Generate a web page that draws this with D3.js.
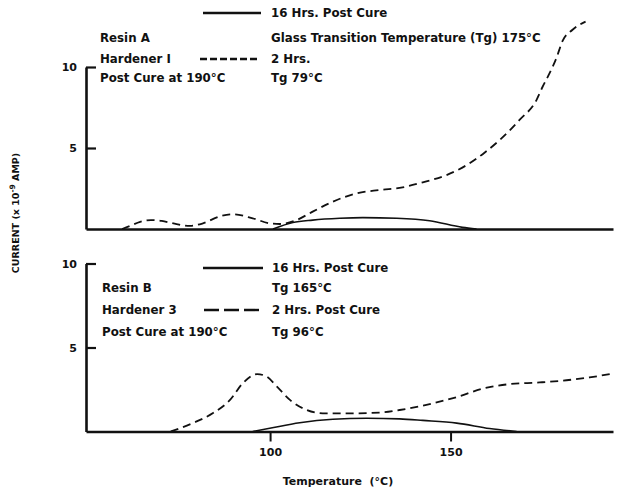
<!DOCTYPE html>
<html>
<head>
<meta charset="utf-8">
<script src="https://cdn.jsdelivr.net/npm/d3@7"></script>
<style>
  html, body { margin: 0; padding: 0; background: #fff; }
  svg text { font-family: "DejaVu Sans", sans-serif; font-weight: bold; fill: #111; }
</style>
</head>
<body>
<svg id="chart" width="622" height="490"></svg>
<script>
// ---- Data (temperature °C, current x10^-9 A) ----
const xTickValues = [100, 150];
const yTickValues = [5, 10];

// Panel A: Resin A / Hardener I
const resinA16hTemp = [100.8, 106.3, 111.8, 119.3, 125.7, 135.1, 144.2, 153.3, 157.2];
const resinA16hCurr = [0, 0.4, 0.55, 0.66, 0.7, 0.66, 0.51, 0.1, 0];
const resinA2hTemp = [59, 61.5, 64, 67, 70, 74.1, 77.8, 81.4, 86.1, 89.7, 95.2, 99.9, 102.7, 107.4, 111.8, 117.4, 124, 130.4, 136.7, 142.3, 148.9, 154.5, 159.4, 163.6, 169.1, 173.8, 175.5, 177.4, 179.4, 181, 183.8, 187.4];
const resinA2hCurr = [0, 0.22, 0.44, 0.55, 0.5, 0.3, 0.19, 0.35, 0.78, 0.91, 0.66, 0.35, 0.31, 0.56, 1.07, 1.69, 2.2, 2.41, 2.57, 2.88, 3.33, 3.95, 4.71, 5.49, 6.73, 7.96, 8.78, 9.6, 10.6, 11.6, 12.3, 12.8];

// Panel B: Resin B / Hardener 3
const resinB16hTemp = [95.2, 99.9, 108.2, 117.4, 126.8, 135.9, 142.3, 151.7, 160.8, 168.3];
const resinB16hCurr = [0, 0.19, 0.52, 0.73, 0.79, 0.75, 0.66, 0.5, 0.18, 0];
const resinB2hTemp = [72.5, 78.6, 84.2, 88.9, 92.5, 96.4, 99.1, 101.9, 105.5, 110.2, 114.6, 122.1, 131.2, 135.9, 142.3, 151.7, 158.9, 165.5, 174.7, 182.1, 188.5, 195];
const resinB2hCurr = [0, 0.5, 1.1, 1.88, 2.89, 3.42, 3.26, 2.67, 1.88, 1.28, 1.08, 1.08, 1.14, 1.28, 1.54, 2.05, 2.55, 2.8, 2.92, 3.05, 3.22, 3.45];

const panelALabels = ["Resin A", "Hardener I", "Post Cure at 190°C"];
const panelALegend = ["16 Hrs. Post Cure", "Glass Transition Temperature (Tg) 175°C", "2 Hrs.", "Tg 79°C"];
const panelBLabels = ["Resin B", "Hardener 3", "Post Cure at 190°C"];
const panelBLegend = ["16 Hrs. Post Cure", "Tg 165°C", "2 Hrs. Post Cure", "Tg 96°C"];

// ---- Drawing ----
const svg = d3.select("#chart");
const x = d3.scaleLinear().domain([49, 195]).range([86, 613]);
const FS = "11.8px";

function zip(a, b) { return a.map((t, i) => [t, b[i]]); }

function panel(cfg) {
  const y = d3.scaleLinear().domain([0, 10]).range([cfg.y0, cfg.y10]);
  const g = svg.append("g");
  const line = d3.line().x(d => x(d[0])).y(d => y(d[1])).curve(d3.curveMonotoneX);

  // curves
  g.append("path").datum(zip(cfg.t16, cfg.c16))
    .attr("d", line).attr("fill", "none").attr("stroke", "#111").attr("stroke-width", 1.6);
  g.append("path").datum(zip(cfg.t2, cfg.c2))
    .attr("d", line).attr("fill", "none").attr("stroke", "#111").attr("stroke-width", 1.8)
    .attr("stroke-dasharray", "8,5");

  // y axis
  const ya = g.append("g").attr("transform", `translate(${x(49)},0)`)
    .call(d3.axisLeft(y).tickValues(yTickValues).tickSize(-10).tickSizeOuter(0).tickPadding(9).tickFormat(d3.format("d")));
  ya.select(".domain").attr("stroke", "#111").attr("stroke-width", 2.6);
  ya.selectAll(".tick line").attr("stroke", "#111").attr("stroke-width", 2.2);
  ya.selectAll(".tick text").style("font-size", "11px").style("font-family", "DejaVu Sans").style("font-weight", "bold");

  // x axis / baseline
  const xa = g.append("g").attr("transform", `translate(0,${cfg.y0})`)
    .call(d3.axisBottom(x).tickValues(cfg.showX ? xTickValues : []).tickSize(10).tickSizeOuter(0).tickPadding(7).tickFormat(d3.format("d")));
  xa.select(".domain").attr("stroke", "#111").attr("stroke-width", 2.6);
  xa.selectAll(".tick line").attr("stroke", "#111").attr("stroke-width", 2);
  xa.selectAll(".tick text").style("font-size", "11px").style("font-family", "DejaVu Sans").style("font-weight", "bold");

  // legend lines
  g.append("line").attr("x1", cfg.solidX[0]).attr("x2", cfg.solidX[1])
    .attr("y1", cfg.solidY).attr("y2", cfg.solidY).attr("stroke", "#111").attr("stroke-width", 2.6);
  g.append("line").attr("x1", cfg.dashX[0]).attr("x2", cfg.dashX[1])
    .attr("y1", cfg.dashY).attr("y2", cfg.dashY).attr("stroke", "#111").attr("stroke-width", 2.4)
    .attr("stroke-dasharray", cfg.legendDash);

  // texts
  cfg.labels.forEach((s, i) => {
    g.append("text").attr("x", cfg.labelX).attr("y", cfg.labelY[i]).style("font-size", FS).text(s);
  });
  cfg.legend.forEach((s, i) => {
    g.append("text").attr("x", cfg.legX).attr("y", cfg.legY[i]).style("font-size", FS).text(s);
  });
}

panel({
  y0: 229, y10: 67, showX: false,
  t16: resinA16hTemp, c16: resinA16hCurr, t2: resinA2hTemp, c2: resinA2hCurr,
  solidX: [203, 261], solidY: 13, dashX: [200, 259], dashY: 59, legendDash: "7,3",
  labels: panelALabels, labelX: 100, labelY: [41.5, 62.5, 82],
  legend: panelALegend, legX: 271, legY: [17, 41.5, 63, 82]
});

panel({
  y0: 431.5, y10: 263.5, showX: true,
  t16: resinB16hTemp, c16: resinB16hCurr, t2: resinB2hTemp, c2: resinB2hCurr,
  solidX: [203, 263], solidY: 268, dashX: [204, 263], dashY: 310, legendDash: "15,5",
  labels: panelBLabels, labelX: 102, labelY: [292, 314, 336],
  legend: panelBLegend, legX: 272, legY: [272, 292, 314, 336]
});

// axis titles
svg.append("text").attr("x", 338).attr("y", 485).attr("text-anchor", "middle")
  .style("font-size", "11px").style("white-space", "pre").text("Temperature  (°C)");

const yl = svg.append("text").attr("transform", "translate(19,213) rotate(-90)")
  .attr("text-anchor", "middle").style("font-size", "9.5px");
yl.append("tspan").text("CURRENT (x 10");
yl.append("tspan").attr("dy", -4).style("font-size", "7.5px").text("-9");
yl.append("tspan").attr("dy", 4).text(" AMP)");
</script>
</body>
</html>
